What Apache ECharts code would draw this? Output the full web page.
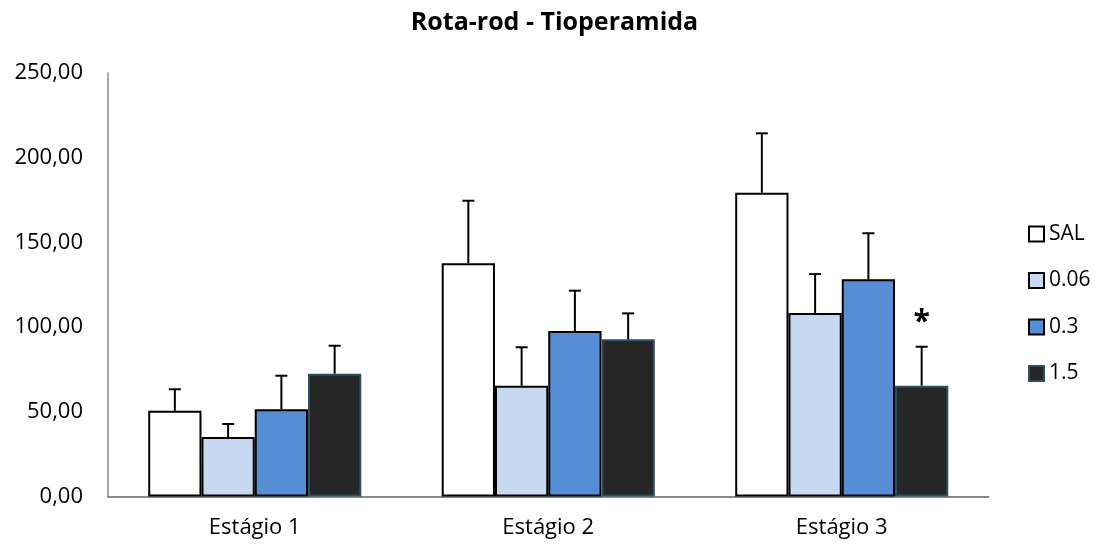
<!DOCTYPE html>
<html>
<head>
<meta charset="utf-8">
<script src="https://cdn.jsdelivr.net/npm/echarts@6/dist/echarts.min.js"></script>
<style>
  html, body { margin: 0; padding: 0; background: #fff; }
  #chart { width: 1109px; height: 546px; }
</style>
</head>
<body>
<div id="chart"></div>
<script>
// Rota-rod latency per stage for each tioperamide dose group (mean and SEM)
const categories = ['Estágio 1', 'Estágio 2', 'Estágio 3'];
const groupNames = ['SAL', '0.06', '0.3', '1.5'];

const salMean = [50.6, 137.7, 179.3];
const d006Mean = [35.1, 65.4, 108.3];
const d03Mean = [51.5, 97.7, 128.2];
const d15Mean = [72.5, 92.8, 65.4];

const salErr = [12.7, 36.9, 35.1];
const d006Err = [7.7, 22.7, 23.0];
const d03Err = [19.8, 23.8, 27.2];
const d15Err = [16.5, 15.3, 23.0];

// significance marks drawn above the error bar of the 1.5 group
const d15Sig = ['', '', '*'];

const yTicks = [0, 50, 100, 150, 200, 250];

const means = [salMean, d006Mean, d03Mean, d15Mean];
const errs = [salErr, d006Err, d03Err, d15Err];
const sigs = [['', '', ''], ['', '', ''], ['', '', ''], d15Sig];

const fills = ['#FFFFFF', '#C6D9F1', '#558ED5', '#262626'];
const borders = ['#000000', '#000000', '#000000', '#2B5160'];
const catGap = 0.274;

const errData = [];
means.forEach((arr, s) => {
  arr.forEach((v, c) => errData.push([c, s, v, errs[s][c], sigs[s][c]]));
});

const barSeries = groupNames.map((name, s) => ({
  name: name,
  type: 'bar',
  data: means[s],
  barGap: '0%',
  barCategoryGap: (catGap * 100) + '%',
  itemStyle: { color: fills[s], borderColor: borders[s], borderWidth: 2 },
  emphasis: { disabled: true },
  z: 2
}));

const chart = echarts.init(document.getElementById('chart'));
chart.setOption({
  animation: false,
  backgroundColor: '#ffffff',
  title: {
    text: 'Rota-rod - Tioperamida',
    left: 'center',
    top: 5,
    textStyle: { fontFamily: 'Open Sans', fontWeight: 'bold', fontSize: 25, color: '#000' }
  },
  legend: {
    orient: 'vertical',
    left: 1023,
    top: 218,
    itemWidth: 15,
    itemHeight: 15,
    itemGap: 24.5,
    icon: 'rect',
    data: groupNames,
    textStyle: { fontFamily: 'Open Sans', fontSize: 21, color: '#000', lineHeight: 22 }
  },
  grid: { left: 108, right: 120.5, top: 73, bottom: 49.5, containLabel: false },
  xAxis: {
    type: 'category',
    data: categories,
    axisLine: { show: true, lineStyle: { color: '#888888', width: 2 } },
    axisTick: { show: false },
    axisLabel: { fontFamily: 'Open Sans', fontSize: 22, color: '#000', margin: 20 }
  },
  yAxis: {
    type: 'value',
    min: yTicks[0],
    max: yTicks[yTicks.length - 1],
    interval: yTicks[1] - yTicks[0],
    axisLine: { show: true, lineStyle: { color: '#888888', width: 1.5 } },
    axisTick: { show: false },
    splitLine: { show: false },
    axisLabel: {
      fontFamily: 'Open Sans', fontSize: 22, color: '#000', margin: 25,
      formatter: v => v.toFixed(2).replace('.', ',')
    }
  },
  series: barSeries.concat([{
    type: 'custom',
    name: 'err',
    data: errData,
    z: 5,
    silent: true,
    renderItem: (params, api) => {
      const c = api.value(0), s = api.value(1), mean = api.value(2), e = api.value(3);
      const mark = errData[params.dataIndex][4];
      const band = api.size([1, 0])[0];
      const bw = band * (1 - catGap) / groupNames.length;
      const x = api.coord([c, 0])[0] + (s - (groupNames.length - 1) / 2) * bw;
      const y0 = api.coord([c, mean])[1];
      const y1 = api.coord([c, mean + e])[1];
      const style = { stroke: '#000', lineWidth: 2 };
      const children = [
        { type: 'line', shape: { x1: x, y1: y0, x2: x, y2: y1 }, style: style },
        { type: 'line', shape: { x1: x - 6, y1: y1, x2: x + 6, y2: y1 }, style: style }
      ];
      if (mark) {
        children.push({
          type: 'text',
          style: {
            text: mark, x: x, y: y1 - 9, align: 'center', verticalAlign: 'bottom',
            font: 'bold 30px "Open Sans"', fill: '#000'
          }
        });
      }
      return { type: 'group', children: children };
    }
  }])
});
</script>
</body>
</html>
